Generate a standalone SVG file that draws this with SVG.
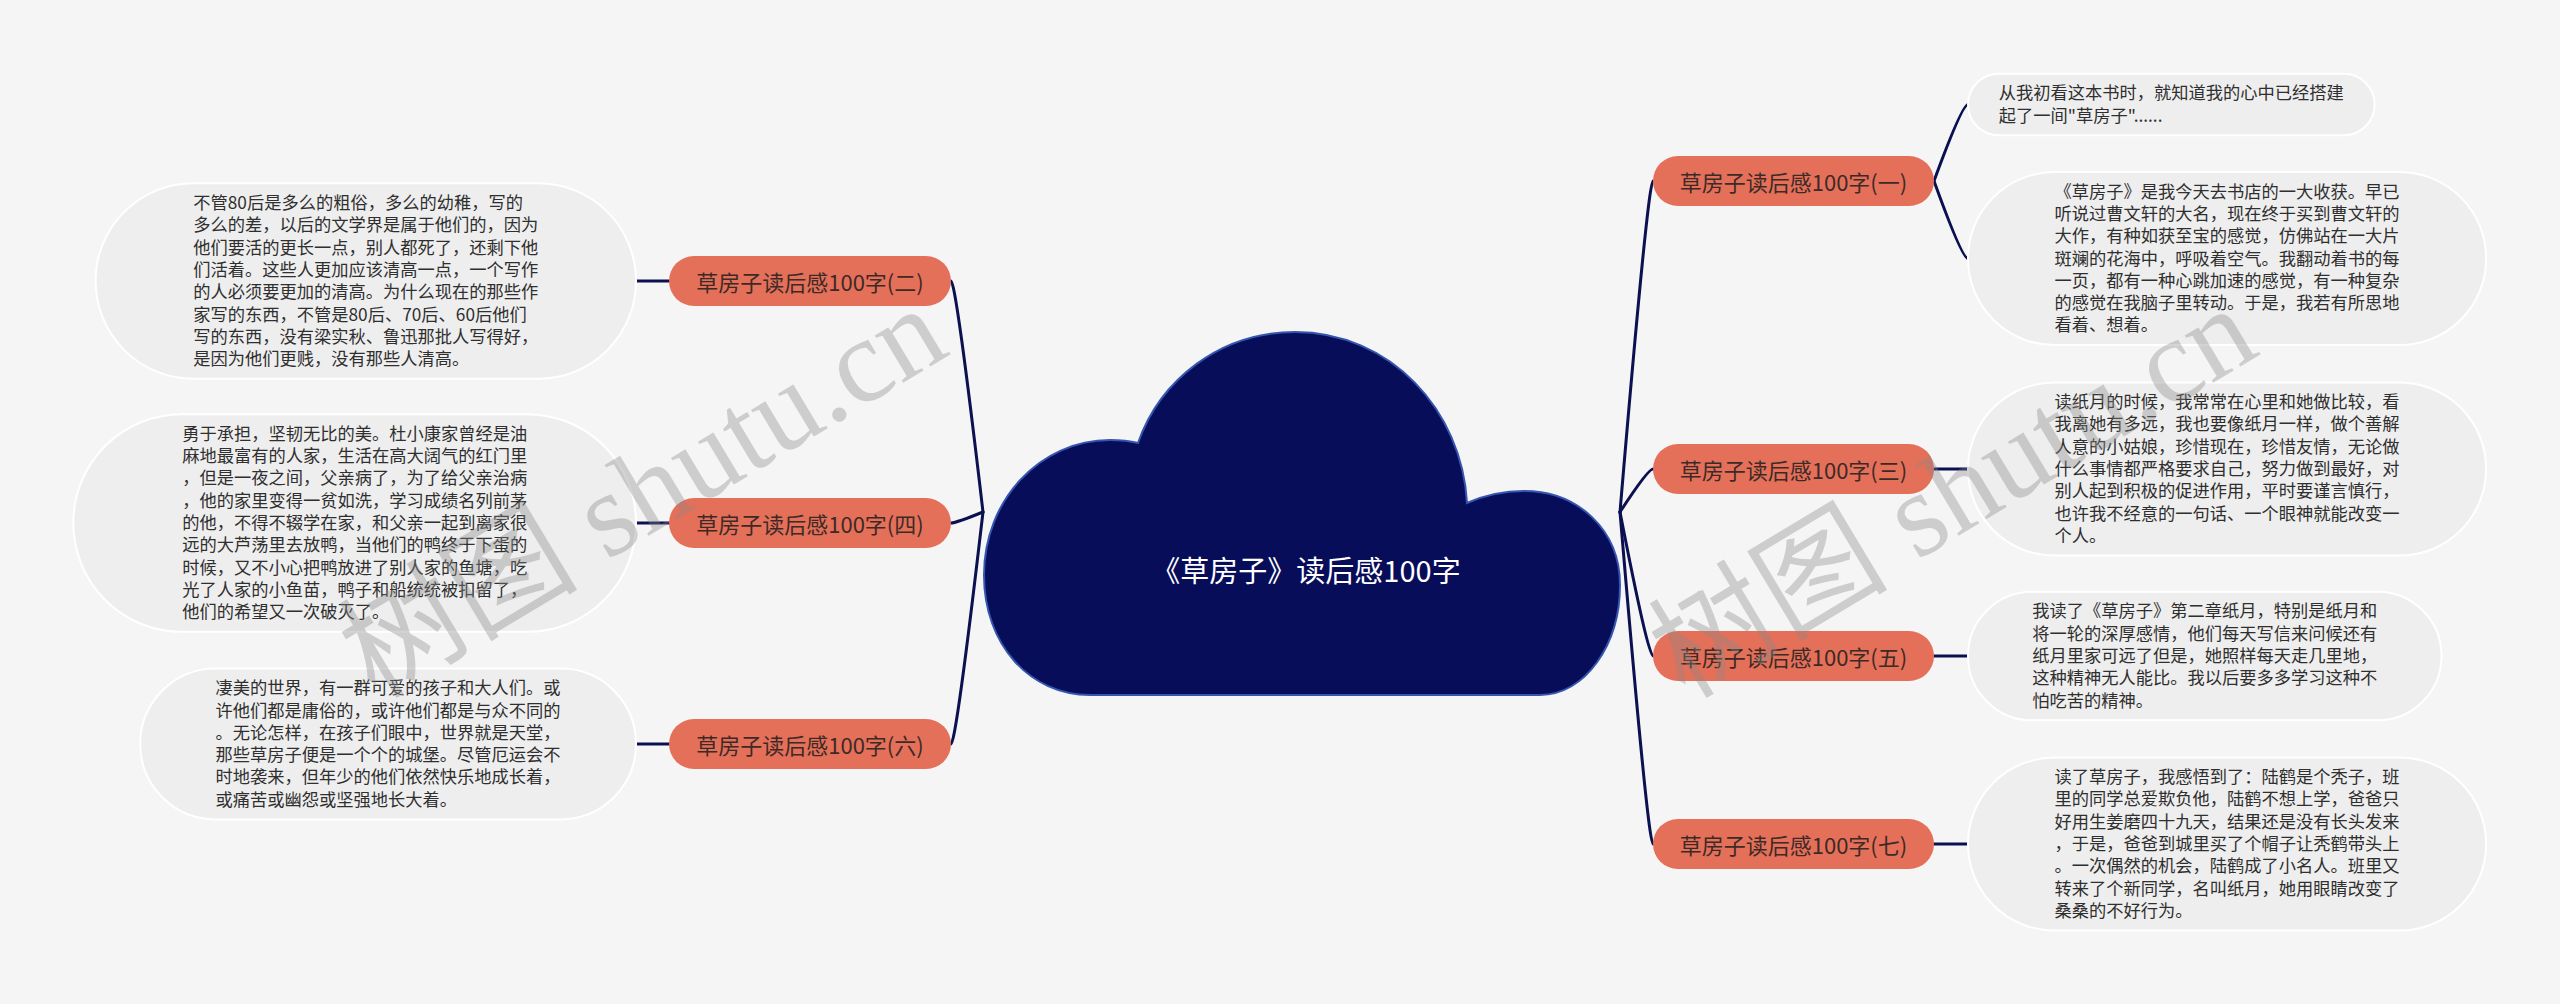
<svg xmlns="http://www.w3.org/2000/svg" width="2560" height="1004" viewBox="0 0 2560 1004">
<style>
.bg{fill:#f5f5f5}
.conn path{fill:none;stroke:#0b1050;stroke-width:3;stroke-linecap:round}
.leaf rect{fill:#eeeeee;stroke:#ffffff;stroke-width:2}
.leaf text{font-family:'Noto Sans CJK SC','Noto Sans',sans-serif;font-size:17.25px;fill:#2f2f2f}
.branch rect{fill:#e5705a}
.branch text{font-family:'Noto Sans CJK SC','Noto Sans',sans-serif;font-size:22px;fill:#3d2a26;text-anchor:middle;dominant-baseline:central}
.root path{fill:#080d5a;stroke:#3556b0;stroke-width:2}
.root text{font-family:'Noto Sans CJK SC','Noto Sans',sans-serif;font-size:29px;fill:#ffffff;text-anchor:middle;dominant-baseline:central}
.wm{font-family:'Liberation Serif','Noto Sans CJK SC',serif;font-size:120px;fill:#888888;opacity:0.36}
</style>
<rect class="bg" x="0" y="0" width="2560" height="1004"/>

<g id="connectors" class="conn">
<path d="M 983 512 Q 956 281 951 281"/>
<path d="M 983 512 Q 956 523 951 523"/>
<path d="M 983 512 Q 956 744 951 744"/>
<path d="M 1620 512 Q 1648 181 1653 181"/>
<path d="M 1620 512 Q 1648 469 1653 469"/>
<path d="M 1620 512 Q 1648 656 1653 656"/>
<path d="M 1620 512 Q 1648 844 1653 844"/>
<path d="M 1934 181 Q 1962 104.5 1968 104.5"/>
<path d="M 1934 181 Q 1962 258.6 1968 258.6"/>
<path d="M 636 281 L 669 281"/>
<path d="M 636 523 L 669 523"/>
<path d="M 636 744 L 669 744"/>
<path d="M 1934 469 L 1968 469"/>
<path d="M 1934 656 L 1968 656"/>
<path d="M 1934 844 L 1968 844"/>
</g>

<g id="root" class="root">
<path d="M 1090 695 C 1030 695 984 645 984 575 C 984 500 1040 440 1110 440 C 1120 440 1130 441 1138 443 C 1160 380 1220 332 1295 332 C 1390 332 1462 410 1467 503 C 1485 495 1505 491 1524 491 C 1578 491 1620 530 1620 585 C 1620 645 1585 695 1540 695 Z"/>
<text x="1306" y="569">《草房子》读后感100字</text>
</g>

<g id="b2" class="branch"><rect x="669" y="256" width="282" height="50" rx="25"/><text x="810" y="281">草房子读后感100字(二)</text></g>
<g id="b4" class="branch"><rect x="669" y="498" width="282" height="50" rx="25"/><text x="810" y="523">草房子读后感100字(四)</text></g>
<g id="b6" class="branch"><rect x="669" y="719" width="282" height="50" rx="25"/><text x="810" y="744">草房子读后感100字(六)</text></g>
<g id="b1" class="branch"><rect x="1653" y="156" width="281" height="50" rx="25"/><text x="1793.5" y="181">草房子读后感100字(一)</text></g>
<g id="b3" class="branch"><rect x="1653" y="444" width="281" height="50" rx="25"/><text x="1793.5" y="469">草房子读后感100字(三)</text></g>
<g id="b5" class="branch"><rect x="1653" y="631" width="281" height="50" rx="25"/><text x="1793.5" y="656">草房子读后感100字(五)</text></g>
<g id="b7" class="branch"><rect x="1653" y="819" width="281" height="50" rx="25"/><text x="1793.5" y="844">草房子读后感100字(七)</text></g>

<g id="leaf2" class="leaf"><rect x="95.6" y="183.3" width="540.4" height="195.4" rx="97.7"/>
<text x="193.3" y="209"><tspan x="193.3">不管80后是多么的粗俗，多么的幼稚，写的</tspan><tspan x="193.3" dy="22.3">多么的差，以后的文学界是属于他们的，因为</tspan><tspan x="193.3" dy="22.3">他们要活的更长一点，别人都死了，还剩下他</tspan><tspan x="193.3" dy="22.3">们活着。这些人更加应该清高一点，一个写作</tspan><tspan x="193.3" dy="22.3">的人必须要更加的清高。为什么现在的那些作</tspan><tspan x="193.3" dy="22.3">家写的东西，不管是80后、70后、60后他们</tspan><tspan x="193.3" dy="22.3">写的东西，没有梁实秋、鲁迅那批人写得好，</tspan><tspan x="193.3" dy="22.3">是因为他们更贱，没有那些人清高。</tspan></text></g>

<g id="leaf4" class="leaf"><rect x="73.3" y="414.15" width="562.7" height="217.7" rx="108.85"/>
<text x="182.15" y="439.8"><tspan x="182.15">勇于承担，坚韧无比的美。杜小康家曾经是油</tspan><tspan x="182.15" dy="22.3">麻地最富有的人家，生活在高大阔气的红门里</tspan><tspan x="182.15" dy="22.3">，但是一夜之间，父亲病了，为了给父亲治病</tspan><tspan x="182.15" dy="22.3">，他的家里变得一贫如洗，学习成绩名列前茅</tspan><tspan x="182.15" dy="22.3">的他，不得不辍学在家，和父亲一起到离家很</tspan><tspan x="182.15" dy="22.3">远的大芦荡里去放鸭，当他们的鸭终于下蛋的</tspan><tspan x="182.15" dy="22.3">时候，又不小心把鸭放进了别人家的鱼塘，吃</tspan><tspan x="182.15" dy="22.3">光了人家的小鱼苗，鸭子和船统统被扣留了，</tspan><tspan x="182.15" dy="22.3">他们的希望又一次破灭了。</tspan></text></g>

<g id="leaf6" class="leaf"><rect x="140.2" y="668.6" width="495.8" height="150.8" rx="75.4"/>
<text x="215.6" y="694.25"><tspan x="215.6">凄美的世界，有一群可爱的孩子和大人们。或</tspan><tspan x="215.6" dy="22.3">许他们都是庸俗的，或许他们都是与众不同的</tspan><tspan x="215.6" dy="22.3">。无论怎样，在孩子们眼中，世界就是天堂，</tspan><tspan x="215.6" dy="22.3">那些草房子便是一个个的城堡。尽管厄运会不</tspan><tspan x="215.6" dy="22.3">时地袭来，但年少的他们依然快乐地成长着，</tspan><tspan x="215.6" dy="22.3">或痛苦或幽怨或坚强地长大着。</tspan></text></g>

<g id="leaf1a" class="leaf"><rect x="1968" y="73.7" width="406.6" height="61.6" rx="30.8"/>
<text x="1998.8" y="99.35"><tspan x="1998.8">从我初看这本书时，就知道我的心中已经搭建</tspan><tspan x="1998.8" dy="22.3">起了一间"草房子"......</tspan></text></g>

<g id="leaf1b" class="leaf"><rect x="1968" y="172" width="518.1" height="173.1" rx="86.55"/>
<text x="2054.6" y="197.65"><tspan x="2054.6">《草房子》是我今天去书店的一大收获。早已</tspan><tspan x="2054.6" dy="22.3">听说过曹文轩的大名，现在终于买到曹文轩的</tspan><tspan x="2054.6" dy="22.3">大作，有种如获至宝的感觉，仿佛站在一大片</tspan><tspan x="2054.6" dy="22.3">斑斓的花海中，呼吸着空气。我翻动着书的每</tspan><tspan x="2054.6" dy="22.3">一页，都有一种心跳加速的感觉，有一种复杂</tspan><tspan x="2054.6" dy="22.3">的感觉在我脑子里转动。于是，我若有所思地</tspan><tspan x="2054.6" dy="22.3">看着、想着。</tspan></text></g>

<g id="leaf3" class="leaf"><rect x="1968" y="382.45" width="518.1" height="173.1" rx="86.55"/>
<text x="2054.6" y="408.1"><tspan x="2054.6">读纸月的时候，我常常在心里和她做比较，看</tspan><tspan x="2054.6" dy="22.3">我离她有多远，我也要像纸月一样，做个善解</tspan><tspan x="2054.6" dy="22.3">人意的小姑娘，珍惜现在，珍惜友情，无论做</tspan><tspan x="2054.6" dy="22.3">什么事情都严格要求自己，努力做到最好，对</tspan><tspan x="2054.6" dy="22.3">别人起到积极的促进作用，平时要谨言慎行，</tspan><tspan x="2054.6" dy="22.3">也许我不经意的一句话、一个眼神就能改变一</tspan><tspan x="2054.6" dy="22.3">个人。</tspan></text></g>

<g id="leaf5" class="leaf"><rect x="1968" y="591.75" width="473.5" height="128.5" rx="64.25"/>
<text x="2032.25" y="617.4"><tspan x="2032.25">我读了《草房子》第二章纸月，特别是纸月和</tspan><tspan x="2032.25" dy="22.3">将一轮的深厚感情，他们每天写信来问候还有</tspan><tspan x="2032.25" dy="22.3">纸月里家可远了但是，她照样每天走几里地，</tspan><tspan x="2032.25" dy="22.3">这种精神无人能比。我以后要多多学习这种不</tspan><tspan x="2032.25" dy="22.3">怕吃苦的精神。</tspan></text></g>

<g id="leaf7" class="leaf"><rect x="1968" y="757.45" width="518.1" height="173.1" rx="86.55"/>
<text x="2054.6" y="783.1"><tspan x="2054.6">读了草房子，我感悟到了：陆鹤是个秃子，班</tspan><tspan x="2054.6" dy="22.3">里的同学总爱欺负他，陆鹤不想上学，爸爸只</tspan><tspan x="2054.6" dy="22.3">好用生姜磨四十九天，结果还是没有长头发来</tspan><tspan x="2054.6" dy="22.3">，于是，爸爸到城里买了个帽子让秃鹤带头上</tspan><tspan x="2054.6" dy="22.3">。一次偶然的机会，陆鹤成了小名人。班里又</tspan><tspan x="2054.6" dy="22.3">转来了个新同学，名叫纸月，她用眼睛改变了</tspan><tspan x="2054.6" dy="22.3">桑桑的不好行为。</tspan></text></g>

<text class="wm" x="375" y="700" transform="rotate(-31 375 700)">树图 shutu.cn</text>
<text class="wm" x="1685" y="700" transform="rotate(-31 1685 700)">树图 shutu.cn</text>
</svg>
